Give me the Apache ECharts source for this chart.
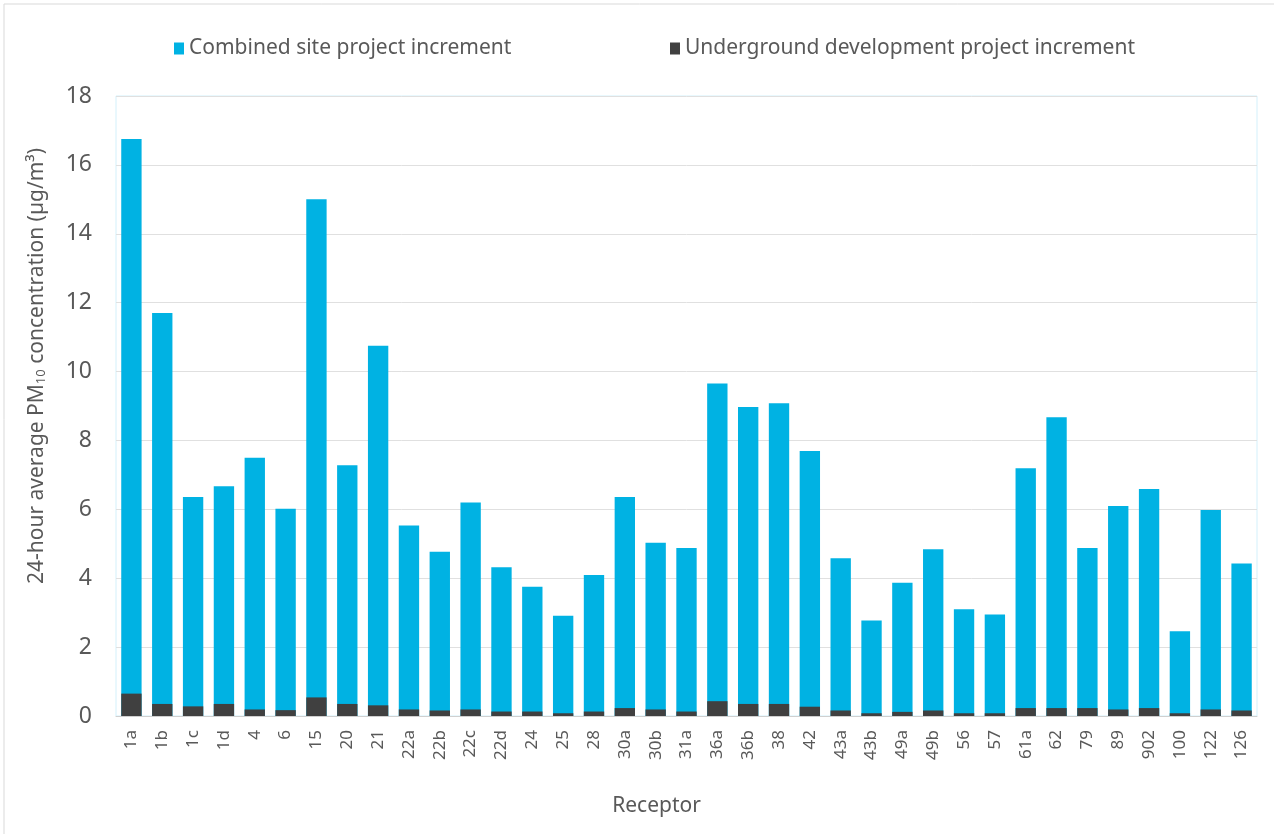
<!DOCTYPE html>
<html>
<head>
<meta charset="utf-8">
<script src="https://cdn.jsdelivr.net/npm/echarts@6/dist/echarts.min.js"></script>
<style>
  html, body { margin: 0; padding: 0; background: #fff; }
  #chart { width: 1274px; height: 834px; }
</style>
</head>
<body>
<div id="chart"></div>
<script>
var receptors = ['1a', '1b', '1c', '1d', '4', '6', '15', '20', '21', '22a', '22b', '22c', '22d', '24', '25', '28', '30a', '30b', '31a',
  '36a', '36b', '38', '42', '43a', '43b', '49a', '49b', '56', '57', '61a', '62', '79', '89', '902', '100', '122', '126'];

// combined site increment (full bar height)
var combined = [16.75, 11.7, 6.36, 6.67, 7.5, 6.02, 15.0, 7.28, 10.75, 5.53, 4.77, 6.2, 4.32, 3.75, 2.91, 4.09, 6.36, 5.03, 4.88,
  9.65, 8.97, 9.08, 7.69, 4.58, 2.77, 3.87, 4.84, 3.1, 2.95, 7.19, 8.67, 4.88, 6.1, 6.59, 2.46, 5.98, 4.43];

// underground development increment (drawn over the base of each bar)
var underground = [0.65, 0.35, 0.28, 0.35, 0.19, 0.17, 0.54, 0.35, 0.31, 0.19, 0.16, 0.19, 0.13, 0.13, 0.08, 0.13, 0.23, 0.19, 0.13,
  0.43, 0.35, 0.35, 0.27, 0.16, 0.08, 0.12, 0.16, 0.08, 0.08, 0.23, 0.23, 0.23, 0.19, 0.23, 0.08, 0.19, 0.16];

var yTicks = { min: 0, max: 18, step: 2 };

var txt = '#595959';
var font = "'Noto Sans', sans-serif";

var myChart = echarts.init(document.getElementById('chart'));

var option = {
  backgroundColor: '#fff',
  animation: false,
  textStyle: { fontFamily: font, color: txt },
  graphic: [{
    type: 'rect',
    shape: { x: 4, y: 4, width: 1290, height: 850 },
    style: { fill: 'none', stroke: '#d9d9d9', lineWidth: 1 },
    silent: true
  }],
  legend: [
    {
      data: ['Combined site project increment'],
      left: 169, top: 33,
      itemWidth: 10, itemHeight: 12, itemGap: 6,
      icon: 'rect',
      textStyle: { fontFamily: font, fontSize: 21, color: txt }
    },
    {
      data: ['Underground development project increment'],
      left: 665, top: 33,
      itemWidth: 10, itemHeight: 12,
      icon: 'rect',
      textStyle: { fontFamily: font, fontSize: 21, color: txt }
    }
  ],
  grid: {
    left: 116, right: 17, top: 96, bottom: 118,
    show: true, borderColor: '#d3f0fb', borderWidth: 1,
    containLabel: false
  },
  xAxis: {
    type: 'category',
    data: receptors,
    name: 'Receptor',
    nameLocation: 'middle',
    nameGap: 80,
    nameTextStyle: { fontFamily: font, fontSize: 21, color: txt, padding: [0, 60, 0, 0] },
    axisLine: { lineStyle: { color: '#d0d0d0', width: 1 } },
    axisTick: { show: false },
    axisLabel: { rotate: 90, margin: 14, fontFamily: font, fontSize: 17, color: txt, interval: 0 }
  },
  yAxis: {
    type: 'value',
    min: yTicks.min, max: yTicks.max, interval: yTicks.step,
    name: '24-hour average PM{sub|10} concentration (µg/m³)',
    nameLocation: 'middle',
    nameGap: 68,
    nameTextStyle: {
      fontFamily: font, fontSize: 21, color: txt, padding: [0, 0, 0, 80],
      rich: {
        sub: { fontFamily: font, fontSize: 13, color: txt, verticalAlign: 'bottom', lineHeight: 20, padding: [10, 0, 0, 0] }
      }
    },
    axisLine: { show: false },
    axisTick: { show: false },
    splitLine: { lineStyle: { color: '#e0e0e0', width: 1 } },
    axisLabel: { margin: 24, fontFamily: font, fontSize: 23, color: txt }
  },
  series: [
    {
      name: 'Combined site project increment',
      type: 'bar',
      data: combined,
      barCategoryGap: '34%',
      itemStyle: { color: '#00b2e3' }
    },
    {
      name: 'Underground development project increment',
      type: 'bar',
      data: underground,
      barGap: '-100%',
      itemStyle: { color: '#404040' }
    }
  ]
};

myChart.setOption(option);
</script>
</body>
</html>
